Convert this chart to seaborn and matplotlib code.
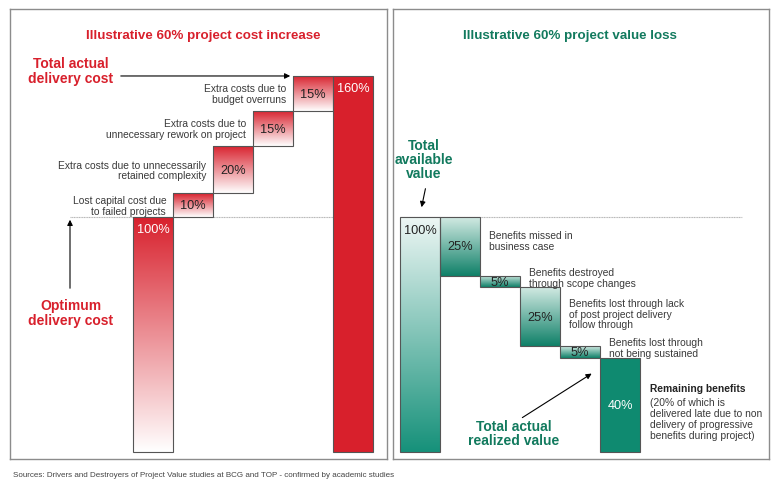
import numpy as np
import matplotlib.pyplot as plt
import seaborn as sns
from matplotlib.colors import LinearSegmentedColormap

# data
cost_values = [100, 10, 20, 15, 15, 160]
cost_labels = ['100%', '10%', '20%', '15%', '15%', '160%']
cost_notes = ['', 'Lost capital cost due\nto failed projects',
              'Extra costs due to unnecessarily\nretained complexity',
              'Extra costs due to\nunnecessary rework on project',
              'Extra costs due to\nbudget overruns', '']

value_values = [100, -25, -5, -25, -5, 40]
value_labels = ['100%', '25%', '5%', '25%', '5%', '40%']
value_notes = ['', 'Benefits missed in\nbusiness case',
               'Benefits destroyed\nthrough scope changes',
               'Benefits lost through lack\nof post project delivery\nfollow through',
               'Benefits lost through\nnot being sustained', '']

source = 'Sources: Drivers and Destroyers of Project Value studies at BCG and TOP - confirmed by academic studies'

RED = '#d8202c'
TEAL = '#0f8a70'
GREEN_TXT = '#127a5e'
GREY_TXT = '#3a3a3a'

sns.set_theme(style='white')
plt.rcParams['font.family'] = ['Liberation Sans', 'DejaVu Sans']


def waterfall(values):
    bottoms, heights = [], []
    run = 0
    last = len(values) - 1
    for i, v in enumerate(values):
        if i == 0 or i == last:
            bottoms.append(0)
            heights.append(abs(v))
            run = v if i == 0 else run
        elif v > 0:
            bottoms.append(run)
            heights.append(v)
            run += v
        else:
            run += v
            bottoms.append(run)
            heights.append(-v)
    return np.array(bottoms), np.array(heights)


def fill_gradient(ax, patch, bottom_col, top_col):
    x0, y0 = patch.get_x(), patch.get_y()
    w, h = patch.get_width(), patch.get_height()
    cmap = LinearSegmentedColormap.from_list('g', [bottom_col, top_col])
    grad = np.linspace(0, 1, 256).reshape(-1, 1)
    im = ax.imshow(grad, cmap=cmap, origin='lower', aspect='auto',
                   extent=[x0, x0 + w, y0, y0 + h], zorder=2)
    im.set_clip_path(patch)


fig = plt.figure(figsize=(7.8, 4.85), dpi=100)
ax1 = fig.add_axes([10 / 780, 25 / 485, 377 / 780, 450 / 485])
ax2 = fig.add_axes([393 / 780, 25 / 485, 376 / 780, 450 / 485])

ylim = (-2.98, 188.5)
for ax in (ax1, ax2):
    for s in ax.spines.values():
        s.set_color('#8c8c8c')
        s.set_linewidth(1.0)
    ax.set_xticks([])
    ax.set_yticks([])

# ---- left: cost increase
xs = np.arange(len(cost_values))
bot, hgt = waterfall(cost_values)
ax1.plot([-2.075, 4.5], [100, 100], color='#b5b5b5', lw=0.8, ls=(0, (1, 0.5)), zorder=1)
bars = ax1.bar(xs, hgt, bottom=bot, width=1.0, facecolor='none',
               edgecolor='#555555', linewidth=0.8, zorder=3)
for i, b in enumerate(bars):
    if i == len(bars) - 1:
        b.set_facecolor(RED)
    else:
        fill_gradient(ax1, b, '#ffffff', RED)
for i, b in enumerate(bars):
    top = bot[i] + hgt[i]
    if i in (0, len(bars) - 1):
        ax1.text(xs[i], top - 5.2, cost_labels[i], ha='center', va='center',
                 color='white', fontsize=9.2, zorder=4)
    else:
        ax1.text(xs[i], bot[i] + hgt[i] / 2, cost_labels[i], ha='center', va='center',
                 color='#222222', fontsize=9.2, zorder=4)
    if cost_notes[i]:
        ax1.text(xs[i] - 0.67, bot[i] + hgt[i] / 2, cost_notes[i], ha='right', va='center',
                 color=GREY_TXT, fontsize=7.4, linespacing=1.12, zorder=4)

ax1.text(-2.05, 162.3, 'Total actual\ndelivery cost', ha='center', va='center',
         color=RED, fontsize=10, fontweight='bold', linespacing=1.05)
ax1.text(-2.05, 59.4, 'Optimum\ndelivery cost', ha='center', va='center',
         color=RED, fontsize=10, fontweight='bold', linespacing=1.05)
ax1.annotate('', xy=(3.5, 160), xytext=(-0.875, 160),
             arrowprops=dict(arrowstyle='-|>', color='black', lw=0.8, mutation_scale=8))
ax1.annotate('', xy=(-2.075, 100), xytext=(-2.075, 68.5),
             arrowprops=dict(arrowstyle='-|>', color='black', lw=0.8, mutation_scale=8))
ax1.text(0.512, 0.942, 'Illustrative 60% project cost increase', transform=ax1.transAxes,
         ha='center', va='center', color=RED, fontsize=9.6, fontweight='bold')
ax1.set_xlim(-3.575, 5.85)
ax1.set_ylim(*ylim)

# ---- right: value loss
xs = np.arange(len(value_values))
bot, hgt = waterfall(value_values)
ax2.plot([-0.5, 8.05], [100, 100], color='#b5b5b5', lw=0.8, ls=(0, (1, 0.5)), zorder=1)
bars = ax2.bar(xs, hgt, bottom=bot, width=1.0, facecolor='none',
               edgecolor='#555555', linewidth=0.8, zorder=3)
for i, b in enumerate(bars):
    if i == len(bars) - 1:
        b.set_facecolor(TEAL)
    elif i == 0:
        fill_gradient(ax2, b, '#16917a', '#eef7f5')
    else:
        fill_gradient(ax2, b, '#0f8068', '#d2eae3')
for i, b in enumerate(bars):
    top = bot[i] + hgt[i]
    if i == 0:
        ax2.text(xs[i], top - 5.6, value_labels[i], ha='center', va='center',
                 color='#222222', fontsize=9.2, zorder=4)
    else:
        col = 'white' if i == len(bars) - 1 else '#222222'
        ax2.text(xs[i], bot[i] + hgt[i] / 2, value_labels[i], ha='center', va='center',
                 color=col, fontsize=9.2, zorder=4)

note_y = [None, 90, 74.3, 58.8, 44.6, None]
for i, note in enumerate(value_notes):
    if note:
        ax2.text(xs[i] + 0.725, note_y[i], note, ha='left', va='center',
                 color=GREY_TXT, fontsize=7.4, linespacing=1.08, zorder=4)
ax2.text(5.75, 27.2, 'Remaining benefits', ha='left', va='center',
         color='#222222', fontsize=7.4, fontweight='bold')
ax2.text(5.75, 14.3, '(20% of which is\ndelivered late due to non\ndelivery of progressive\nbenefits during project)',
         ha='left', va='center', color=GREY_TXT, fontsize=7.4, linespacing=1.12)

ax2.text(0.1, 124.7, 'Total\navailable\nvalue', ha='center', va='center',
         color=GREEN_TXT, fontsize=10, fontweight='bold', linespacing=1.0)
ax2.text(2.35, 8.1, 'Total actual\nrealized value', ha='center', va='center',
         color=GREEN_TXT, fontsize=10, fontweight='bold', linespacing=1.05)
ax2.annotate('', xy=(0.025, 103), xytext=(0.15, 113.2),
             arrowprops=dict(arrowstyle='-|>', color='black', lw=0.8, mutation_scale=8))
ax2.annotate('', xy=(4.35, 34), xytext=(2.5, 14),
             arrowprops=dict(arrowstyle='-|>', color='black', lw=0.8, mutation_scale=8))
ax2.text(0.471, 0.942, 'Illustrative 60% project value loss', transform=ax2.transAxes,
         ha='center', va='center', color=GREEN_TXT, fontsize=9.6, fontweight='bold')
ax2.set_xlim(-0.675, 8.725)
ax2.set_ylim(*ylim)

fig.text(13 / 780, 1 - 476 / 485, source, ha='left', va='center', color='#444444', fontsize=5.8)

fig.savefig('out.png', dpi=100)
